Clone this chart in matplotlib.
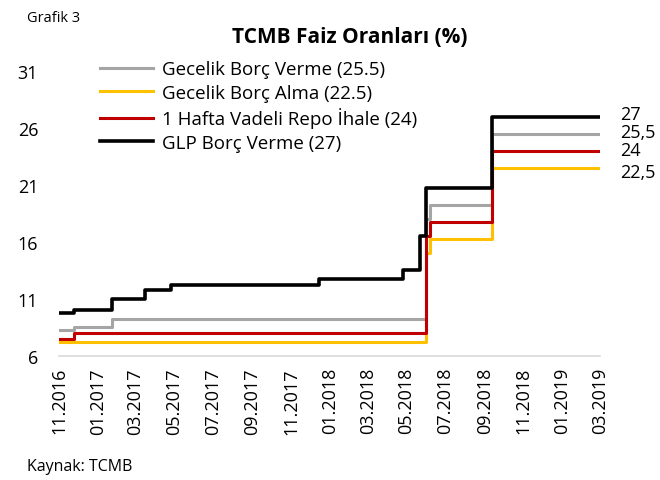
import matplotlib
matplotlib.use("Agg")
import matplotlib.pyplot as plt
import matplotlib.dates as mdates
import pandas as pd

plt.rcParams['font.family'] = ['Open Sans', 'DejaVu Sans']

end_date = "2019-03-01"

# step change dates and values for each rate
gece_verme_dates = ["2016-11-01", "2016-11-24", "2017-01-24", "2018-06-01", "2018-06-07", "2018-09-13"]
gece_verme_vals = [8.25, 8.5, 9.25, 18.0, 19.25, 25.5]

gece_alma_dates = ["2016-11-01", "2018-06-01", "2018-06-07", "2018-09-13"]
gece_alma_vals = [7.25, 15.0, 16.25, 22.5]

repo_dates = ["2016-11-01", "2016-11-24", "2018-06-01", "2018-06-07", "2018-09-13"]
repo_vals = [7.5, 8.0, 16.5, 17.75, 24.0]

glp_dates = ["2016-11-01", "2016-11-24", "2017-01-24", "2017-03-16", "2017-04-26", "2017-12-14",
             "2018-04-25", "2018-05-23", "2018-06-01", "2018-09-13"]
glp_vals = [9.75, 10.0, 11.0, 11.75, 12.25, 12.75, 13.5, 16.5, 20.75, 27.0]

labels = ["Gecelik Borç Verme (25.5)", "Gecelik Borç Alma (22.5)",
          "1 Hafta Vadeli Repo İhale (24)", "GLP Borç Verme (27)"]
colors = ["#A5A5A5", "#FFC000", "#C00000", "#000000"]
end_labels = ["25,5", "22,5", "24", "27"]
end_offsets = [1.5, -3, 0.7, 2]

series = [(gece_verme_dates, gece_verme_vals), (gece_alma_dates, gece_alma_vals),
          (repo_dates, repo_vals), (glp_dates, glp_vals)]

fig = plt.figure(figsize=(6.6, 4.81), dpi=100)
ax = fig.add_axes([0.0894, 0.258, 0.8196, 0.592])

for (d, v), lab, col, el, off in zip(series, labels, colors, end_labels, end_offsets):
    x = pd.to_datetime(d + [end_date])
    y = v + [v[-1]]
    lw = 2.6 if col == "#000000" else 2.2
    ax.plot(x, y, drawstyle="steps-post", color=col, lw=lw, label=lab)
    ax.annotate(el, xy=(x[-1], y[-1]), xytext=(14.5, off), textcoords="offset points",
                va="center", ha="left", fontsize=13, annotation_clip=False)

ax.set_ylim(6, 31)
ax.set_yticks([6, 11, 16, 21, 26, 31])
ax.set_xlim(pd.Timestamp("2016-11-01"), pd.Timestamp(end_date))
ax.xaxis.set_major_locator(mdates.MonthLocator(bymonth=[1, 3, 5, 7, 9, 11]))
ax.xaxis.set_major_formatter(mdates.DateFormatter("%m.%Y"))
plt.setp(ax.get_xticklabels(), rotation=90)
ax.tick_params(axis="both", length=0, labelsize=13)
ax.tick_params(axis="y", pad=15)
ax.tick_params(axis="x", pad=8)

for s in ["top", "right", "left"]:
    ax.spines[s].set_visible(False)
ax.spines["bottom"].set_color("#D9D9D9")
ax.spines["bottom"].set_linewidth(1.2)

ax.legend(loc="upper left", bbox_to_anchor=(0.1515, 0.873), bbox_transform=fig.transFigure,
          frameon=False, fontsize=13.5, handlelength=2.83, handletextpad=0.48,
          labelspacing=0.30, borderpad=0, borderaxespad=0)

fig.text(0.5303, 0.923, "TCMB Faiz Oranları (%)", ha="center", va="center",
         fontsize=15, fontweight="bold")
fig.text(0.041, 0.962, "Grafik 3", ha="left", va="center", fontsize=10.5)
fig.text(0.041, 0.029, "Kaynak: TCMB", ha="left", va="center", fontsize=11.5)

fig.savefig("out.png", dpi=100)
